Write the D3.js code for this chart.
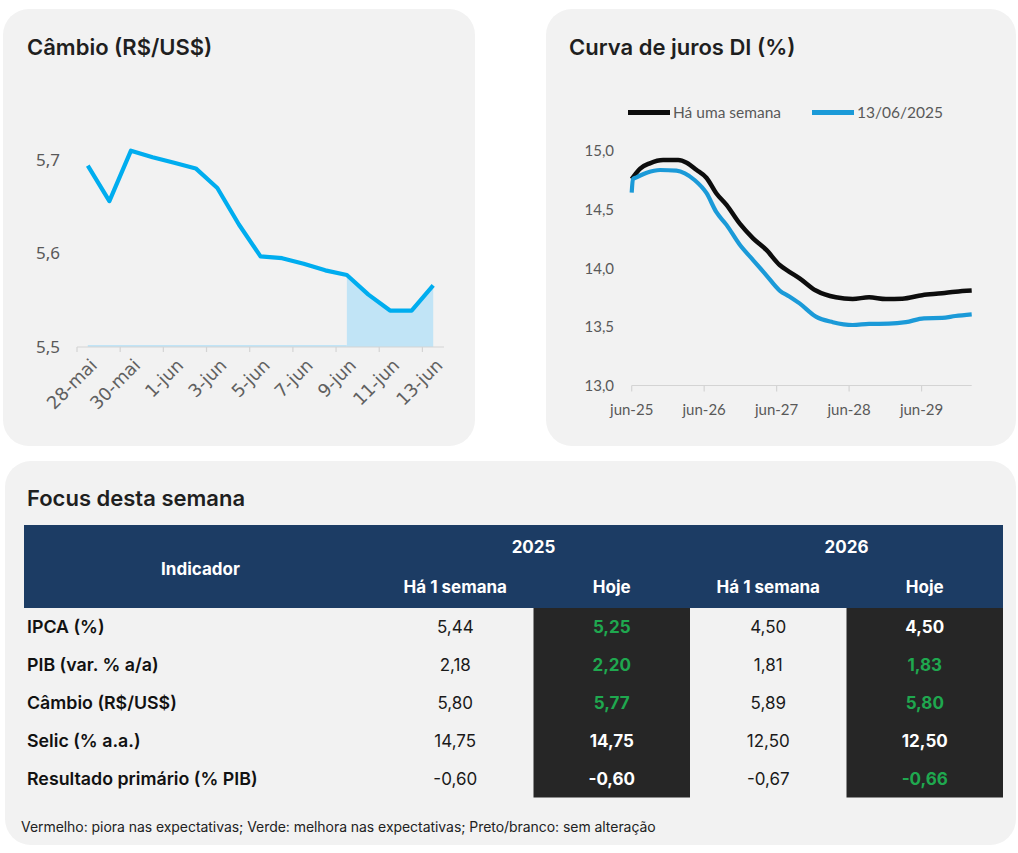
<!DOCTYPE html>
<html>
<head>
<meta charset="utf-8">
<script src="https://cdn.jsdelivr.net/npm/d3@7"></script>
<style>
  body { margin: 0; background: #fff; }
  svg { display: block; }
</style>
</head>
<body>
<svg id="painel" width="1018" height="853"></svg>
<script>
// --- Câmbio (R$/US$), diário
var datas = ["28-mai","29-mai","30-mai","31-mai","1-jun","2-jun","3-jun","4-jun","5-jun",
             "6-jun","7-jun","8-jun","9-jun","10-jun","11-jun","12-jun","13-jun"];
var cambio = [5.694, 5.656, 5.710, 5.703, 5.697, 5.691, 5.670, 5.631, 5.597,
              5.595, 5.589, 5.582, 5.577, 5.556, 5.539, 5.539, 5.566];
var destaqueInicio = "9-jun";
var cambioTicks = [5.5, 5.6, 5.7];

// --- Curva de juros DI (%), prazo em meses a partir de jun-25
var mesesSemana = [0, 1.4, 3.0, 5.2, 7.7, 9.1, 10.7, 12.4, 14.0, 15.7, 17.9, 20.1, 22.3,
                   24.5, 26.1, 27.8, 30.5, 33.8, 36.6, 39.3, 42.1, 44.8, 48.1, 51.4, 53.6, 56.3];
var juroSemana = [14.76, 14.85, 14.895, 14.923, 14.923, 14.90, 14.84, 14.77, 14.64, 14.54, 14.38, 14.255, 14.156,
                  14.028, 13.97, 13.914, 13.81, 13.752, 13.738, 13.752, 13.738, 13.74, 13.77, 13.786, 13.80, 13.81];
var mesesHoje = [0, 0.2, 0.8, 2.5, 4.7, 7.4, 8.8, 10.4, 12.4, 14.0, 15.7, 17.9, 20.1, 22.3,
                 24.5, 26.1, 27.8, 30.5, 33.3, 36.6, 39.3, 42.6, 45.4, 48.4, 51.4, 53.6, 56.3];
var juroHoje = [14.645, 14.76, 14.776, 14.815, 14.838, 14.832, 14.81, 14.753, 14.64, 14.48, 14.37, 14.20, 14.07, 13.94,
                13.81, 13.76, 13.70, 13.587, 13.54, 13.516, 13.525, 13.527, 13.54, 13.573, 13.576, 13.593, 13.607];
var jurosTickMeses = [0, 12, 24, 36, 48];
var jurosTickLabels = ["jun-25", "jun-26", "jun-27", "jun-28", "jun-29"];
var jurosTicks = [13.0, 13.5, 14.0, 14.5, 15.0];
var legenda = ["Há uma semana", "13/06/2025"];

// --- Focus
var indicadores = ["IPCA (%)", "PIB (var. % a/a)", "Câmbio (R$/US$)", "Selic (% a.a.)", "Resultado primário (% PIB)"];
var semana2025 = [5.44, 2.18, 5.80, 14.75, -0.60];
var hoje2025   = [5.25, 2.20, 5.77, 14.75, -0.60];
var semana2026 = [4.50, 1.81, 5.89, 12.50, -0.67];
var hoje2026   = [4.50, 1.83, 5.80, 12.50, -0.66];
var melhorSeMaior = [false, true, false, false, true];
var anos = ["2025", "2026"];
var subColunas = ["Há 1 semana", "Hoje"];
var nota = "Vermelho: piora nas expectativas; Verde: melhora nas expectativas; Preto/branco: sem alteração";

var br = d3.formatLocale({decimal: ",", thousands: ".", grouping: [3], currency: ["R$", ""], minus: "-"});
var f1 = br.format(".1f"), f2 = br.format(".2f");

var svg = d3.select("#painel");
var TITULO = "Inter, 'Noto Sans', sans-serif";

// painéis
[[3, 9, 472, 437], [546, 9, 470, 437], [5, 461, 1011, 384]].forEach(function(p) {
  svg.append("rect").attr("x", p[0]).attr("y", p[1]).attr("width", p[2]).attr("height", p[3])
    .attr("rx", 26).attr("fill", "#f2f2f2");
});

function titulo(txt, x, y) {
  svg.append("text").attr("x", x).attr("y", y).text(txt)
    .attr("font-family", TITULO).attr("font-weight", 600).attr("font-size", 22).attr("fill", "#1f1f1f");
}
titulo("Câmbio (R$/US$)", 27, 55);
titulo("Curva de juros DI (%)", 569, 55);
titulo("Focus desta semana", 27, 506);

// ---------- Câmbio ----------
var x1 = d3.scaleBand().domain(datas).range([77, 444]);
var y1 = d3.scaleLinear().domain([5.5, 5.75]).range([347, 113.25]);
var cx = function(d) { return x1(d) + x1.bandwidth() / 2; };
var g1 = svg.append("g");

var iDest = datas.indexOf(destaqueInicio);
var trecho = datas.slice(iDest);
g1.append("path")
  .attr("d", d3.area().x(function(d) { return cx(d); }).y0(y1(5.5))
    .y1(function(d) { return y1(cambio[datas.indexOf(d)]); })(trecho))
  .attr("fill", "#c1e4f6");
g1.append("line")
  .attr("x1", cx(datas[0])).attr("x2", cx(destaqueInicio))
  .attr("y1", y1(5.5) - 1).attr("y2", y1(5.5) - 1)
  .attr("stroke", "#c1e4f6").attr("stroke-width", 2);

g1.append("line").attr("x1", 77).attr("x2", 444).attr("y1", y1(5.5)).attr("y2", y1(5.5))
  .attr("stroke", "#d4d4d4").attr("stroke-width", 1.2);
var rotulos = datas.filter(function(d, i) { return i % 2 === 0; });
g1.selectAll(".tk").data(rotulos).enter().append("line")
  .attr("x1", function(d) { return x1(d); }).attr("x2", function(d) { return x1(d); })
  .attr("y1", y1(5.5)).attr("y2", y1(5.5) + 5)
  .attr("stroke", "#d4d4d4").attr("stroke-width", 1.2);
g1.selectAll(".xl").data(rotulos).enter().append("text")
  .attr("transform", function(d) { return "translate(" + (cx(d) + 6) + "," + (y1(5.5) + 15) + ") rotate(-45)"; })
  .attr("text-anchor", "end").attr("dy", "0.35em")
  .attr("font-family", "'DejaVu Sans', sans-serif").attr("font-size", 17.8).attr("fill", "#606060")
  .text(function(d) { return d; });
g1.selectAll(".yl").data(cambioTicks).enter().append("text")
  .attr("x", 60).attr("y", function(d) { return y1(d); }).attr("dy", "0.35em")
  .attr("text-anchor", "end")
  .attr("font-family", "'Noto Sans', sans-serif").attr("font-size", 17).attr("fill", "#595959")
  .text(f1);

g1.append("path")
  .attr("d", d3.line().x(function(d) { return cx(d); })
    .y(function(d, i) { return y1(cambio[i]); })(datas))
  .attr("fill", "none").attr("stroke", "#00adef").attr("stroke-width", 4.2)
  .attr("stroke-linejoin", "round");

// ---------- Curva DI ----------
var x2 = d3.scaleLinear().domain([0, 56.3]).range([631.7, 971.7]);
var y2 = d3.scaleLinear().domain([13, 15]).range([385.5, 151]);
var g2 = svg.append("g");
var fonteCalibri = "Lato, 'Open Sans', sans-serif";

g2.append("line").attr("x1", 631.7).attr("x2", 971.7).attr("y1", y2(13)).attr("y2", y2(13))
  .attr("stroke", "#d4d4d4").attr("stroke-width", 1.2);
g2.selectAll(".tk").data(jurosTickMeses).enter().append("line")
  .attr("x1", x2).attr("x2", x2).attr("y1", y2(13)).attr("y2", y2(13) + 6)
  .attr("stroke", "#d4d4d4").attr("stroke-width", 1.2);
g2.selectAll(".xl").data(jurosTickMeses).enter().append("text")
  .attr("x", x2).attr("y", y2(13) + 24).attr("dy", "0.35em").attr("text-anchor", "middle")
  .attr("font-family", fonteCalibri).attr("font-size", 15).attr("fill", "#595959")
  .text(function(d, i) { return jurosTickLabels[i]; });
g2.selectAll(".yl").data(jurosTicks).enter().append("text")
  .attr("x", 614).attr("y", y2).attr("dy", "0.35em").attr("text-anchor", "end")
  .attr("font-family", fonteCalibri).attr("font-size", 15).attr("fill", "#595959")
  .text(f1);

var linha = d3.line().curve(d3.curveMonotoneX);
var series = [
  {meses: mesesSemana, v: juroSemana, cor: "#0d0d0d", w: 4.5},
  {meses: mesesHoje, v: juroHoje, cor: "#1b9ad8", w: 4.2}
];
series.forEach(function(s) {
  g2.append("path")
    .attr("d", linha(s.meses.map(function(m, i) { return [x2(m), y2(s.v[i])]; })))
    .attr("fill", "none").attr("stroke", s.cor).attr("stroke-width", s.w)
    .attr("stroke-linejoin", "round");
});

var legX = [628, 812];
series.forEach(function(s, i) {
  g2.append("line").attr("x1", legX[i]).attr("x2", legX[i] + 42).attr("y1", 112.5).attr("y2", 112.5)
    .attr("stroke", s.cor).attr("stroke-width", 5);
  g2.append("text").attr("x", legX[i] + 45).attr("y", 112.5).attr("dy", "0.35em")
    .attr("font-family", fonteCalibri).attr("font-size", 15.5).attr("fill", "#595959")
    .text(legenda[i]);
});

// ---------- Tabela Focus ----------
var g3 = svg.append("g");
var colX = [24, 377, 533.5, 690, 846.5, 1003];
var topo = 525, fimCab = 608, linhaH = 37.9;
var ry = d3.scaleBand().domain(indicadores).range([fimCab, fimCab + linhaH * indicadores.length]);

g3.append("rect").attr("x", colX[0]).attr("y", topo).attr("width", colX[5] - colX[0])
  .attr("height", fimCab - topo).attr("fill", "#1c3c64");
[2, 4].forEach(function(c) {
  g3.append("rect").attr("x", colX[c]).attr("y", fimCab).attr("width", colX[c + 1] - colX[c])
    .attr("height", ry.range()[1] - fimCab).attr("fill", "#262626");
});

function cab(txt, x, y) {
  g3.append("text").attr("x", x).attr("y", y).attr("dy", "0.35em").attr("text-anchor", "middle")
    .attr("font-family", TITULO).attr("font-weight", 700).attr("font-size", 17).attr("fill", "#fff").text(txt);
}
cab("Indicador", (colX[0] + colX[1]) / 2, 569);
anos.forEach(function(a, i) {
  cab(a, colX[1 + 2 * i + 1], 547);
  subColunas.forEach(function(s, j) {
    var c = 1 + 2 * i + j;
    cab(s, (colX[c] + colX[c + 1]) / 2, 587);
  });
});

var colunas = [semana2025, hoje2025, semana2026, hoje2026];
indicadores.forEach(function(ind, r) {
  var yc = ry(ind) + ry.bandwidth() / 2;
  g3.append("text").attr("x", 27).attr("y", yc).attr("dy", "0.35em")
    .attr("font-family", TITULO).attr("font-weight", 600).attr("font-size", 17.8).attr("fill", "#111")
    .text(ind);
  colunas.forEach(function(col, c) {
    var hoje = c % 2 === 1, cor = "#1a1a1a";
    if (hoje) {
      var antes = colunas[c - 1][r], agora = col[r];
      if (agora === antes) cor = "#ffffff";
      else cor = ((agora > antes) === melhorSeMaior[r]) ? "#1fa84f" : "#e03030";
    }
    g3.append("text").attr("x", (colX[c + 1] + colX[c + 2]) / 2).attr("y", yc).attr("dy", "0.35em")
      .attr("text-anchor", "middle")
      .attr("font-family", TITULO).attr("font-weight", hoje ? 700 : 400).attr("font-size", 17)
      .attr("fill", cor).text(f2(col[r]));
  });
});

g3.append("text").attr("x", 21).attr("y", 827).attr("dy", "0.35em")
  .attr("font-family", TITULO).attr("font-size", 14).attr("fill", "#222")
  .attr("letter-spacing", -0.05).text(nota);
</script>
</body>
</html>
